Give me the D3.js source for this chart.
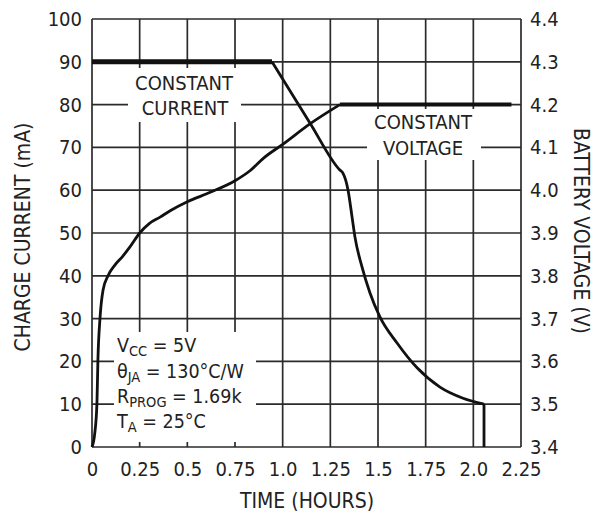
<!DOCTYPE html>
<html>
<head>
<meta charset="utf-8">
<script src="https://cdn.jsdelivr.net/npm/d3@7"></script>
<style>
  html, body { margin: 0; padding: 0; background: #fff; }
  svg { display: block; }
  text { font-family: "Liberation Sans Narrow", "DejaVu Sans Condensed", "Liberation Sans", sans-serif; fill: #222; }
</style>
</head>
<body>
<svg id="chart" width="599" height="516"></svg>
<script>
// Charge cycle: current (left axis, mA) and battery voltage (right axis, V) vs time
const timeTicks = [0, 0.25, 0.5, 0.75, 1.0, 1.25, 1.5, 1.75, 2.0, 2.25];
const timeTickLabels = ["0", "0.25", "0.5", "0.75", "1.0", "1.25", "1.5", "1.75", "2.0", "2.25"];
const currentTicks = [0, 10, 20, 30, 40, 50, 60, 70, 80, 90, 100];
const voltageTicks = [3.4, 3.5, 3.6, 3.7, 3.8, 3.9, 4.0, 4.1, 4.2, 4.3, 4.4];

// charge current, mA
const currentHours = [0, 0.944, 1.143, 1.30, 1.316, 1.343, 1.364, 1.379, 1.416, 1.458, 1.51, 1.60, 1.705, 1.825, 1.946, 2.056];
const currentMA    = [90, 90, 75.7, 64.7, 64.0, 60.0, 53.7, 49.1, 42.1, 36.0, 30.4, 24.3, 18.5, 14.0, 11.4, 10.0];
const currentEndHours = [2.056, 2.056];
const currentEndMA = [10.0, 0];

// battery voltage, V
const voltageHours = [0, 0.014, 0.026, 0.031, 0.042, 0.058, 0.084, 0.12, 0.16, 0.20, 0.25, 0.30, 0.357, 0.41, 0.50, 0.62, 0.75, 0.83, 0.90, 1.0, 1.143, 1.30];
const voltageV     = [3.40, 3.43, 3.503, 3.603, 3.701, 3.767, 3.80, 3.825, 3.845, 3.868, 3.90, 3.922, 3.937, 3.952, 3.973, 3.995, 4.022, 4.046, 4.075, 4.107, 4.155, 4.20];
const voltageFlatHours = [1.30, 2.20];
const voltageFlatV = [4.2, 4.2];

const svg = d3.select("#chart");
const plotL = 92, plotR = 521, plotT = 19, plotB = 447;

const x = d3.scaleLinear().domain([0, 2.25]).range([plotL, plotR]);
const yI = d3.scaleLinear().domain([0, 100]).range([plotB, plotT]);
const yV = d3.scaleLinear().domain([3.4, 4.4]).range([plotB, plotT]);

const gridColor = "#2b2b2b";

// grid
const grid = svg.append("g");
grid.selectAll("line.h").data(currentTicks).join("line")
  .attr("x1", plotL).attr("x2", plotR)
  .attr("y1", d => yI(d)).attr("y2", d => yI(d))
  .attr("stroke", gridColor).attr("stroke-width", 1.7);
grid.selectAll("line.v").data(timeTicks).join("line")
  .attr("y1", plotT).attr("y2", plotB)
  .attr("x1", d => x(d)).attr("x2", d => x(d))
  .attr("stroke", gridColor).attr("stroke-width", 1.7);

// white backing behind the in-plot labels
const boxes = [
  {x0: 128, x1: 241, y0: 68, y1: 122},
  {x0: 367, x1: 481, y0: 109, y1: 160},
  {x0: 114, x1: 256, y0: 332, y1: 442}
];
svg.append("g").selectAll("rect").data(boxes).join("rect")
  .attr("x", d => d.x0).attr("y", d => d.y0)
  .attr("width", d => d.x1 - d.x0).attr("height", d => d.y1 - d.y0)
  .attr("fill", "#fff");

// axes
const xAxis = d3.axisBottom(x).tickValues(timeTicks)
  .tickFormat((d, i) => timeTickLabels[i]).tickSize(0).tickPadding(15);
const gx = svg.append("g").attr("transform", `translate(0,${plotB})`).call(xAxis);

const yAxisL = d3.axisLeft(yI).tickValues(currentTicks).tickFormat(d3.format("d")).tickSize(0).tickPadding(10);
const gyl = svg.append("g").attr("transform", `translate(${plotL},0)`).call(yAxisL);

const yAxisR = d3.axisRight(yV).tickValues(voltageTicks).tickFormat(d3.format(".1f")).tickSize(0).tickPadding(9);
const gyr = svg.append("g").attr("transform", `translate(${plotR},0)`).call(yAxisR);

[gx, gyl, gyr].forEach(g => {
  g.select(".domain").remove();
  g.selectAll("text").attr("font-size", 20).attr("fill", "#222")
    .style("font-family", "'Liberation Sans Narrow', 'DejaVu Sans Condensed', sans-serif");
});

// curves
const curI = currentHours.map((t, i) => [t, currentMA[i]]);
const curV = voltageHours.map((t, i) => [t, voltageV[i]]);
const lineI = d3.line().x(d => x(d[0])).y(d => yI(d[1]));
const lineV = d3.line().x(d => x(d[0])).y(d => yV(d[1]));
const smoothI = d3.line().x(d => x(d[0])).y(d => yI(d[1])).curve(d3.curveMonotoneX);
const smoothV = d3.line().x(d => x(d[0])).y(d => yV(d[1])).curve(d3.curveMonotoneX);

const marks = svg.append("g").attr("fill", "none").attr("stroke", "#111")
  .attr("stroke-linejoin", "round").attr("stroke-linecap", "butt");

// constant-current plateau (heavy)
marks.append("path").attr("d", lineI(curI.slice(0, 2))).attr("stroke-width", 5);
// taper of current
marks.append("path").attr("d", smoothI(curI.slice(1))).attr("stroke-width", 2.8);
marks.append("path")
  .attr("d", lineI(currentEndHours.map((t, i) => [t, currentEndMA[i]])))
  .attr("stroke-width", 2.8);
// voltage rise
marks.append("path").attr("d", smoothV(curV)).attr("stroke-width", 2.8);
// constant-voltage plateau (heavy)
marks.append("path")
  .attr("d", lineV(voltageFlatHours.map((t, i) => [t, voltageFlatV[i]])))
  .attr("stroke-width", 4);

// in-plot labels
const lab = svg.append("g").attr("font-size", 20).attr("text-anchor", "middle");
lab.append("text").attr("x", 184).attr("y", 90).text("CONSTANT");
lab.append("text").attr("x", 185).attr("y", 115).text("CURRENT");
lab.append("text").attr("x", 423).attr("y", 129).text("CONSTANT");
lab.append("text").attr("x", 423).attr("y", 155).text("VOLTAGE");

// operating conditions
const cond = svg.append("g").attr("font-size", 19.5);
const condLines = [
  {main: "V", sub: "CC", rest: " = 5V", y: 352},
  {main: "\u03B8", sub: "JA", rest: " = 130\u00B0C/W", y: 378},
  {main: "R", sub: "PROG", rest: " = 1.69k", y: 403},
  {main: "T", sub: "A", rest: " = 25\u00B0C", y: 428}
];
condLines.forEach(c => {
  const t = cond.append("text").attr("x", 117).attr("y", c.y);
  t.append("tspan").text(c.main);
  t.append("tspan").attr("dy", 4).attr("font-size", 14.5).text(c.sub);
  t.append("tspan").attr("dy", -4).text(c.rest);
});

// axis titles
svg.append("text").attr("font-size", 21).attr("text-anchor", "middle")
  .attr("transform", "translate(30,237) rotate(-90)").text("CHARGE CURRENT (mA)");
svg.append("text").attr("font-size", 21).attr("text-anchor", "middle")
  .attr("transform", "translate(574,231) rotate(90)").text("BATTERY VOLTAGE (V)");
svg.append("text").attr("font-size", 21).attr("text-anchor", "middle")
  .attr("x", 307).attr("y", 508).text("TIME (HOURS)");
</script>
</body>
</html>
